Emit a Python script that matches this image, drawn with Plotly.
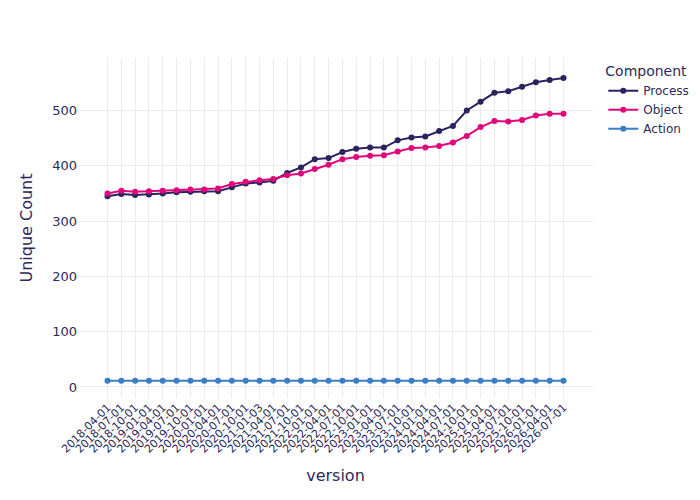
import plotly.graph_objects as go

versions = ["2018-04-01", "2018-07-01", "2018-10-01", "2019-01-01", "2019-04-01", "2019-07-01",
            "2019-10-01", "2020-01-01", "2020-04-01", "2020-07-01", "2020-10-01", "2021-01-03",
            "2021-04-01", "2021-07-01", "2021-10-01", "2022-01-01", "2022-04-01", "2022-07-01",
            "2022-10-01", "2023-01-01", "2023-04-01", "2023-07-01", "2023-10-01", "2024-01-01",
            "2024-04-01", "2024-07-01", "2024-10-01", "2025-01-01", "2025-04-01", "2025-07-01",
            "2025-10-01", "2026-01-01", "2026-04-01", "2026-07-01"]
process = [345, 349, 347, 348, 350, 352, 353, 354, 354, 361, 368, 370, 373, 387, 397, 412, 414,
           425, 431, 433, 433, 446, 451, 453, 463, 472, 500, 516, 532, 535, 543, 551, 555, 559]
obj = [350, 355, 353, 354, 355, 356, 357, 357, 359, 367, 371, 374, 376, 383, 386, 394, 402,
       412, 416, 418, 419, 426, 432, 433, 436, 442, 454, 470, 481, 480, 483, 491, 494, 494]
action = [11] * len(versions)

fig = go.Figure()
for name, vals, col in [("Process", process, "#2b2260"), ("Object", obj, "#e0077d"), ("Action", action, "#3a7ec6")]:
    fig.add_trace(go.Scatter(x=versions, y=vals, name=name, mode="lines+markers",
                             line=dict(color=col, width=2), marker=dict(size=6)))

fig.update_layout(template="plotly_white", width=700, height=500,
                  font=dict(color="#2d2a5a", family="DejaVu Sans, sans-serif"),
                  legend=dict(title_text="Component", font=dict(size=12), title_font=dict(size=14)),
                  xaxis=dict(title=dict(text="version", font=dict(size=16)), tickangle=-45,
                             type="category", dtick=1, tickfont=dict(size=11),
                             gridcolor="#ebebeb", showline=False),
                  yaxis=dict(title=dict(text="Unique Count", font=dict(size=16)),
                             tickfont=dict(size=13), gridcolor="#ebebeb", zeroline=False,
                             range=[-20, 595]),
                  margin=dict(l=70, r=115, t=50, b=110))
fig.write_html("out.html")
